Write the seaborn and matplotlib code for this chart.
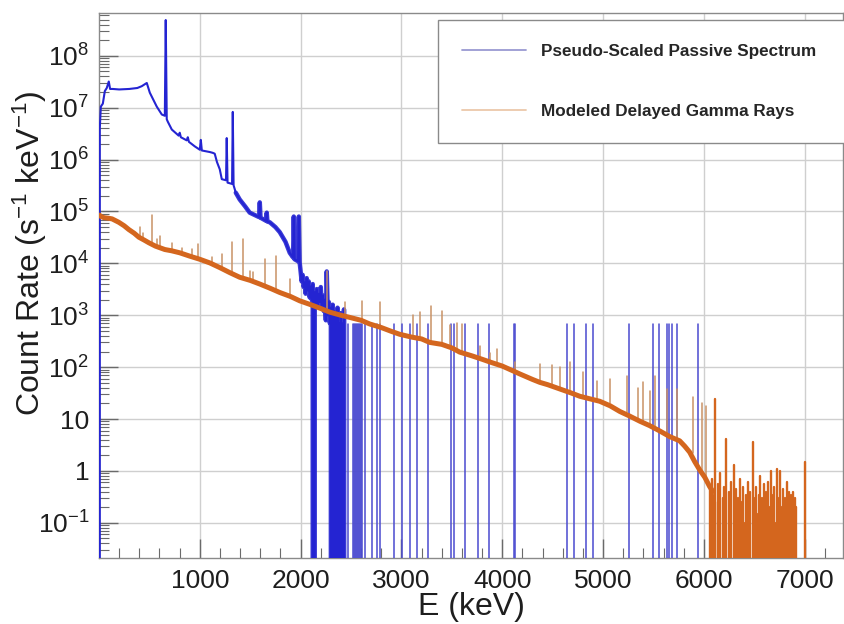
import numpy as np
import pandas as pd
import matplotlib
matplotlib.use("Agg")
import matplotlib.pyplot as plt
import seaborn as sns
from matplotlib.lines import Line2D
from matplotlib.ticker import FixedLocator, LogLocator, NullFormatter

# ---------------- data ----------------
# Pseudo-scaled passive spectrum: continuum with peaks, E in keV, rate in s^-1 keV^-1
passive_E = [0, 8, 18, 38, 58, 77, 97, 110, 137, 200, 300, 380, 424, 474, 504, 573, 623,
             653, 662, 672, 682, 722, 790, 801, 812, 870, 881, 892, 950, 1000, 1010, 1020,
             1099, 1129, 1148, 1170, 1198, 1218, 1260, 1267, 1275, 1320, 1327, 1335, 1357,
             1396, 1450, 1495, 1588, 1595, 1602, 1658, 1664, 1670, 1694, 1750, 1793, 1850,
             1892, 1925, 1932, 1940, 1975, 1982, 1990,
             2000, 2010, 2020, 2030, 2041, 2050, 2060, 2070, 2080, 2090, 2100, 2110, 2120,
             2130, 2140, 2150, 2160, 2170, 2180, 2190, 2200, 2210, 2220, 2230, 2240, 2250,
             2259, 2270, 2280, 2290, 2300, 2310, 2318, 2326, 2334, 2342, 2350, 2358, 2366,
             2374, 2382, 2390, 2398, 2406, 2414, 2422, 2430, 2440]
passive_rate = [0, 4.0e6, 1.05e7, 1.2e7, 2.1e7, 2.4e7, 3.2e7, 2.3e7, 2.3e7, 2.25e7, 2.3e7,
                2.4e7, 2.6e7, 3.0e7, 1.95e7, 1.05e7, 7.4e6,
                7.0e6, 4.9e8, 6.0e6, 5.4e6, 3.8e6, 2.9e6, 3.3e6, 2.7e6, 2.35e6, 2.7e6, 2.2e6,
                1.8e6, 1.55e6, 2.4e6, 1.5e6,
                1.4e6, 1.35e6, 1.3e6, 9.0e5, 6.5e5, 4.2e5, 4.0e5, 2.6e6, 3.6e5, 3.4e5, 8.3e6,
                3.2e5, 2.3e5,
                1.7e5, 1.25e5, 9.5e4, 7.8e4, 1.5e5, 7.6e4, 6.6e4, 9.5e4, 6.4e4, 6.2e4, 5.0e4,
                4.0e4, 2.6e4,
                1.6e4, 1.3e4, 8.0e4, 1.2e4, 1.1e4, 8.0e4, 1.05e4,
                7.0e3, 4.5e3, 6.0e3, 3.5e3, 4.3e3, 2.6e3, 5.2e3, 3.0e3, 4.5e3, 2.2e3, 3.6e3,
                2.0e3, 4.0e3,
                0, 2.8e3, 1.6e3, 3.2e3, 1.5e3, 2.6e3, 1.8e3, 3.5e3, 1.4e3, 2.4e3, 1.2e3,
                2.0e3, 8.0e2,
                7.0e3, 1.0e3, 1.8e3, 7.0e2, 1.4e3, 0, 1.6e3, 0, 1.2e3, 0, 9.0e2, 0, 1.4e3,
                0, 7.0e2, 0, 1.1e3, 0, 7.0e2, 0, 1.3e3, 0]

# isolated single-count channels of the passive spectrum (rate of one count)
passive_single_E = [2467, 2517, 2527, 2537, 2547, 2557, 2567, 2577, 2587, 2597, 2606, 2636,
                    2705, 2755, 2785, 2924, 3003, 3083, 3152, 3261, 3489, 3519, 3628, 3757,
                    3866, 4119, 4129, 4639, 4709, 4828, 4897, 5254, 5492, 5552, 5631, 5651,
                    5681, 5730, 5939]
passive_single_rate = [690, 690, 690, 690, 690, 690, 690, 690, 690, 690, 690, 690,
                       690, 690, 690, 690, 690, 690, 690, 690, 690, 690, 690, 690,
                       690, 690, 690, 690, 690, 690, 690, 690, 690, 690, 690, 690,
                       690, 690, 690]

# Modeled delayed gamma rays: continuum
delayed_E = [5, 20, 50, 97, 130, 196, 250, 295, 350, 395, 450, 494, 560, 653, 720, 801, 900,
             1000, 1100, 1198, 1300, 1396, 1500, 1595, 1700, 1793, 1900, 1991, 2100, 2200,
             2289, 2400, 2487, 2600, 2685, 2800, 2900, 2983, 3100, 3200, 3280, 3400, 3500,
             3578, 3700, 3800, 3876, 4000, 4100, 4174, 4300, 4372, 4450, 4571, 4680, 4769,
             4870, 4967, 5070, 5166, 5260, 5364, 5460, 5562, 5660, 5760, 5810, 5859, 5910,
             5958, 6010, 6057, 6090]
delayed_rate = [8.5e4, 8.0e4, 7.6e4, 7.4e4, 7.2e4, 6.2e4, 5.3e4, 4.5e4, 3.8e4, 3.2e4, 2.8e4,
                2.5e4, 2.15e4, 1.85e4, 1.75e4, 1.6e4, 1.38e4,
                1.2e4, 1.02e4, 8.3e3, 6.6e3, 5.4e3, 4.7e3, 4.0e3, 3.3e3, 2.75e3, 2.3e3, 1.9e3,
                1.6e3, 1.35e3,
                1.15e3, 1.0e3, 9.1e2, 8.0e2, 6.8e2, 5.8e2, 4.9e2, 4.3e2, 3.8e2, 3.5e2, 3.0e2,
                2.75e2, 2.35e2,
                1.95e2, 1.65e2, 1.42e2, 1.26e2, 1.05e2, 8.6e1, 7.4e1, 5.8e1, 5.1e1, 4.6e1,
                3.8e1, 3.2e1, 2.75e1,
                2.45e1, 2.2e1, 1.8e1, 1.4e1, 1.15e1, 9.1, 7.5, 5.9, 4.6, 3.8, 3.0, 2.3, 1.5,
                1.05, 0.75, 0.5, 0.4]

# delayed gamma-ray lines: energy, top of the line, continuum under it
delayed_peak_E = [405, 434, 524, 573, 603, 722, 821, 920, 980, 1119, 1218, 1322, 1426, 1496,
                  1525, 1645, 1758, 1892, 2259, 2438, 2607, 2785, 3112, 3182, 3291, 3400,
                  3480, 3549, 3599, 3777, 3876, 3946, 4124, 4372, 4491, 4571, 4669, 4798,
                  4937, 5066, 5234, 5344, 5393, 5463, 5512, 5631, 5730, 5889, 5978, 6018]
delayed_peak_top = [5.0e4, 3.8e4, 8.7e4, 3.0e4, 3.3e4, 2.5e4, 2.0e4, 1.9e4, 2.4e4, 1.35e4,
                    1.5e4, 2.6e4, 2.9e4, 7.0e3, 6.8e3, 1.2e4, 1.4e4, 5.0e3, 7.0e3, 1.8e3,
                    1.86e3, 1.8e3, 1.0e3, 1.15e3, 1.5e3, 1.2e3, 6.5e2, 7.0e2, 6.8e2, 2.6e2,
                    1.9e2, 2.2e2, 1.26e2, 1.15e2, 1.1e2, 1.0e2, 1.26e2, 8.0e1, 5.5e1, 5.9e1,
                    6.8e1, 4.0e1, 5.1e1, 3.5e1, 6.8e1, 3.8e1, 3.8e1, 2.7e1, 2.0e1, 1.8e1]
delayed_peak_base = [3.3e4, 3.0e4, 2.5e4, 2.1e4, 2.0e4, 1.75e4, 1.55e4, 1.35e4, 1.25e4,
                     1.02e4, 8.0e3, 6.6e3, 5.3e3, 4.8e3, 4.6e3, 3.7e3, 3.0e3, 2.3e3, 1.25e3,
                     9.8e2, 8.3e2, 6.3e2, 3.8e2, 3.6e2, 3.2e2, 2.8e2, 2.4e2, 2.2e2, 2.0e2,
                     1.5e2, 1.3e2, 1.15e2, 8.0e1, 5.2e1, 4.5e1, 3.9e1, 3.4e1, 2.7e1, 2.3e1,
                     2.0e1, 1.35e1, 1.0e1, 9.0, 8.0, 7.2, 5.2, 4.0, 2.2, 1.0, 0.7]

# delayed gamma-ray spectrum above ~6 MeV (low statistics, channel by channel)
delayed_tail_E = [6064, 6076, 6088, 6100, 6107, 6114, 6126, 6138, 6150, 6162, 6174, 6186,
                  6198, 6210, 6222, 6234, 6246, 6258, 6270, 6282, 6294, 6306, 6318, 6330,
                  6342, 6354, 6366, 6378, 6390, 6402, 6414, 6426, 6438, 6450, 6462, 6474,
                  6484, 6496, 6508, 6520, 6532, 6544, 6556, 6568, 6580, 6592, 6604, 6616,
                  6628, 6640, 6652, 6664, 6676, 6688, 6700, 6712, 6724, 6736, 6748, 6760,
                  6772, 6784, 6796, 6808, 6820, 6832, 6844, 6856, 6868, 6880, 6892, 6904,
                  6916, 6928, 7000]
delayed_tail_rate = [0.45, 0.7, 0, 0.35, 24, 0.25, 0, 0.55, 0.2, 0.9, 0, 0.3,
                     0.5, 0.15, 4.2, 0, 0.4, 0.12, 0.6, 0, 1.3, 0.2, 0.45, 0,
                     0.3, 0.7, 0, 0.25, 0.5, 0.1, 0.35, 0, 0.6, 0.2, 0.4, 0,
                     3.6, 0.3, 0, 0.5, 0.15, 0.35, 0.8, 0, 0.3, 0.55, 0.1, 0.4,
                     0, 0.6, 0.2, 1.0, 0, 0.35, 0.5, 0.1, 1.1, 0.3, 0, 1.0,
                     0.2, 0.45, 0, 0.3, 0.6, 0.1, 0.4, 0, 0.35, 0.4, 0.15, 0.3,
                     0.2, 0, 1.5]

series_labels = ["Pseudo-Scaled Passive Spectrum", "Modeled Delayed Gamma Rays"]
x_tick_values = [1000, 2000, 3000, 4000, 5000, 6000, 7000]
y_tick_values = [1e-1, 1, 10, 1e2, 1e3, 1e4, 1e5, 1e6, 1e7, 1e8]
y_tick_labels = ["10$^{-1}$", "1", "10", "10$^{2}$", "10$^{3}$", "10$^{4}$", "10$^{5}$",
                 "10$^{6}$", "10$^{7}$", "10$^{8}$"]

# ---------------- style ----------------
sns.set_theme(style="white")
plt.rcParams["font.family"] = ["Liberation Sans", "DejaVu Sans"]
plt.rcParams["mathtext.fontset"] = "custom"
plt.rcParams["mathtext.rm"] = "Liberation Sans"
plt.rcParams["mathtext.it"] = "Liberation Sans:italic"
plt.rcParams["mathtext.bf"] = "Liberation Sans:bold"
plt.rcParams["mathtext.default"] = "regular"

BLUE = "#2424d2"
BLUE_THIN = "#4a4ad0"
ORANGE = "#d4661e"
ORANGE_PEAK = "#c99266"
GRID = "#cfcfcf"
TEXT = "#1e1e1e"

fig = plt.figure(figsize=(8.44, 6.24), dpi=100)
ax = fig.add_axes([0.1173, 0.1058, 0.8815, 0.8734])


def spike_frame(E, top, base):
    rows = []
    for i, (e, t, b) in enumerate(zip(E, top, base)):
        rows.append((e, b, i))
        rows.append((e, t, i))
    return pd.DataFrame(rows, columns=["E", "rate", "unit"])


blue_df = pd.DataFrame({"E": passive_E, "rate": passive_rate})
blue_noisy = blue_df[blue_df["E"] >= 1340]
blue_spk = spike_frame(passive_single_E, passive_single_rate, [0] * len(passive_single_E))
or_df = pd.DataFrame({"E": delayed_E, "rate": delayed_rate})
or_pk = spike_frame(delayed_peak_E, delayed_peak_top, delayed_peak_base)
or_tail = spike_frame(delayed_tail_E, delayed_tail_rate, [0] * len(delayed_tail_E))

# passive spectrum
sns.lineplot(data=blue_spk, x="E", y="rate", units="unit", estimator=None, sort=False,
             color=BLUE_THIN, lw=1.1, ax=ax, legend=False, zorder=3)
sns.lineplot(data=blue_df, x="E", y="rate", estimator=None, sort=False,
             color=BLUE, lw=1.5, ax=ax, legend=False, zorder=3)
sns.lineplot(data=blue_noisy, x="E", y="rate", estimator=None, sort=False,
             color=BLUE, lw=3.2, alpha=0.9, ax=ax, legend=False, zorder=3)
# delayed gamma rays
sns.lineplot(data=or_pk, x="E", y="rate", units="unit", estimator=None, sort=False,
             color=ORANGE_PEAK, lw=1.1, ax=ax, legend=False, zorder=4)
sns.lineplot(data=or_tail, x="E", y="rate", units="unit", estimator=None, sort=False,
             color=ORANGE, lw=1.7, ax=ax, legend=False, zorder=4)
sns.lineplot(data=or_df, x="E", y="rate", estimator=None, sort=False,
             color=ORANGE, lw=3.6, ax=ax, legend=False, zorder=5)

ax.set_yscale("log")
ax.set_xlim(0, 7380)
ax.set_ylim(0.021, 6.7e8)

ax.xaxis.set_major_locator(FixedLocator(x_tick_values))
ax.set_xticklabels([str(v) for v in x_tick_values])
ax.xaxis.set_minor_locator(FixedLocator([v for v in range(200, 7400, 200) if v % 1000]))
ax.yaxis.set_major_locator(FixedLocator(y_tick_values))
ax.set_yticklabels(y_tick_labels)
ax.yaxis.set_minor_locator(LogLocator(base=10, subs=np.arange(2, 10), numticks=30))
ax.yaxis.set_minor_formatter(NullFormatter())

ax.tick_params(axis="both", which="both", direction="in", colors="#6a6a6a",
               labelcolor=TEXT, left=True, bottom=True, top=False, right=False)
ax.tick_params(axis="both", which="major", labelsize=19, length=14, width=1)
ax.tick_params(axis="both", which="minor", length=7, width=0.8)
ax.tick_params(axis="y", which="major", pad=7)
ax.tick_params(axis="x", which="major", pad=8)

ax.grid(True, which="major", color=GRID, lw=1.0)
for s in ax.spines.values():
    s.set_color("#8a8a8a")
    s.set_linewidth(1.0)

ax.set_xlabel("E (keV)", fontsize=23, color=TEXT)
ax.xaxis.set_label_coords(0.5, -0.062)
ax.xaxis.label.set_va("top")
ax.set_ylabel("Count Rate (s$^{-1}$ keV$^{-1}$)", fontsize=23, color=TEXT)
ax.yaxis.set_label_coords(-0.067, 0.56)

handles = [Line2D([0], [0], color="#9a9ad2", lw=1.3),
           Line2D([0], [0], color="#ecc8aa", lw=1.3)]
leg = ax.legend(handles, series_labels, loc="upper left",
                bbox_to_anchor=(0.456, 0.767, 0.62, 0.22), mode="expand",
                borderaxespad=0, frameon=True, fancybox=False, framealpha=1,
                edgecolor="#8a8a8a", prop={"weight": "bold", "size": 12.3},
                handlelength=3.75, handletextpad=0.85, labelspacing=2.65, borderpad=1.4)
leg.get_frame().set_linewidth(1.0)
leg.set_zorder(10)

fig.savefig("out.png", dpi=100)
